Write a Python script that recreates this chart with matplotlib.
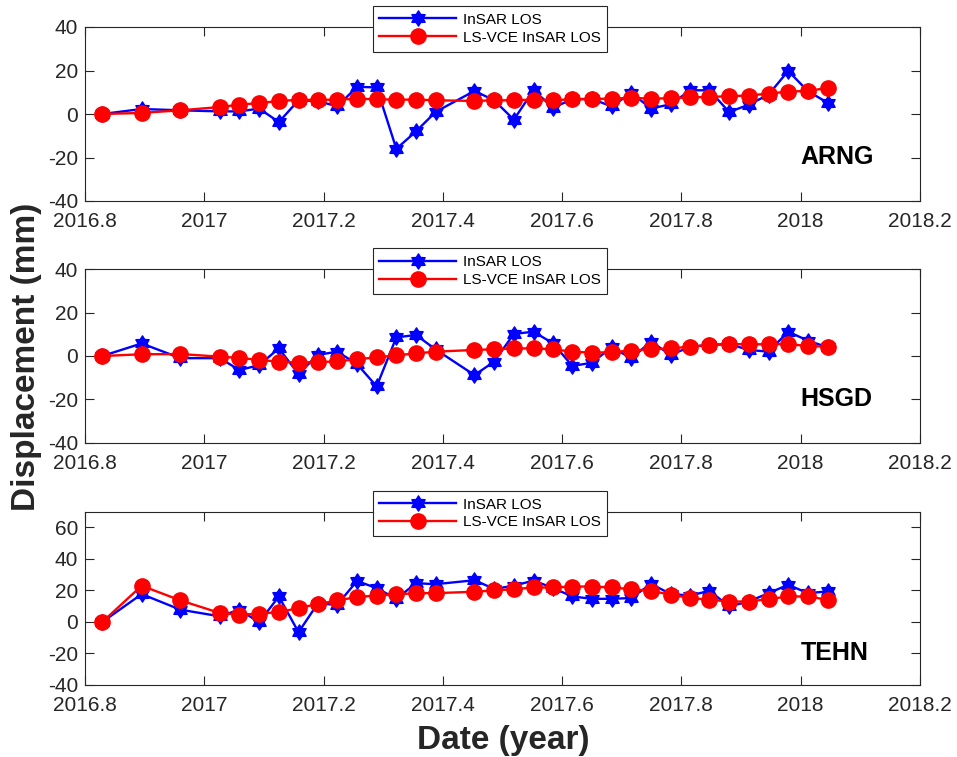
import matplotlib
matplotlib.use("Agg")
import matplotlib.pyplot as plt
from matplotlib.path import Path

plt.rcParams['font.family'] = ['Liberation Sans', 'DejaVu Sans']

# Acquisition epochs (decimal year)
dates = [2016.829, 2016.895, 2016.960, 2017.026, 2017.059, 2017.092, 2017.125,
         2017.158, 2017.190, 2017.223, 2017.256, 2017.289, 2017.322, 2017.355,
         2017.388, 2017.453, 2017.486, 2017.519, 2017.552, 2017.585, 2017.617,
         2017.650, 2017.683, 2017.716, 2017.749, 2017.782, 2017.815, 2017.847,
         2017.880, 2017.913, 2017.946, 2017.979, 2018.012, 2018.045]

stations = ['ARNG', 'HSGD', 'TEHN']

# LOS displacement (mm): raw InSAR and LS-VCE weighted solution
arng_insar = [0, 2.3, 1.7, 1.2, 1.2, 2.5, -3.7, 6.3, 6.0, 3.5, 12.5, 12.2, -16.0,
              -8.0, 1.0, 10.6, 6.3, -2.6, 10.9, 2.9, 6.8, 6.9, 3.5, 9.7, 2.5,
              4.5, 10.9, 10.9, 0.9, 4.3, 8.9, 19.8, 10.5, 5.2]
arng_lsvce = [0, 0.5, 1.7, 3.2, 4.3, 5.0, 6.0, 6.5, 6.5, 6.6, 7.0, 6.8, 6.6,
              6.6, 6.3, 6.0, 6.3, 6.3, 6.6, 6.3, 6.8, 6.9, 7.1, 7.4, 7.1, 7.2,
              7.7, 7.8, 8.2, 8.5, 9.4, 10.3, 10.6, 12.0]

hsgd_insar = [0, 5.8, -1.0, -1.0, -6.5, -4.2, 3.5, -8.3, 0.5, 2.0, -3.7, -14.0,
              8.6, 9.7, 3.0, -8.8, -2.6, 10.2, 11.2, 5.8, -4.6, -3.1, 4.0, -1.0,
              6.6, 0.5, 4.3, 5.1, 5.5, 2.8, 2.0, 11.2, 7.1, 4.0]
hsgd_lsvce = [0, 0.8, 0.9, -0.3, -0.9, -1.8, -2.6, -3.0, -2.8, -2.5, -1.5, -0.6,
              0.3, 1.2, 2.0, 2.8, 3.1, 3.5, 3.5, 3.1, 2.0, 1.5, 1.8, 2.5, 3.1,
              3.5, 4.3, 5.1, 5.5, 5.4, 5.4, 5.5, 4.6, 4.3]

tehn_insar = [0, 17.7, 7.8, 3.6, 7.8, -0.2, 16.2, -6.5, 11.6, 11.0, 26.0, 21.5,
              14.7, 24.6, 24.0, 26.5, 21.0, 23.0, 26.3, 21.5, 16.2, 14.7, 14.7,
              15.2, 24.2, 17.7, 16.8, 19.8, 9.9, 13.0, 18.3, 23.6, 18.3, 19.4]
tehn_lsvce = [0, 23.0, 13.7, 5.7, 4.6, 5.3, 6.3, 8.8, 11.4, 13.7, 15.8, 16.8,
              17.5, 18.3, 18.3, 19.2, 20.0, 20.8, 21.9, 21.9, 22.5, 22.5, 21.9,
              20.8, 19.8, 17.3, 15.2, 14.1, 13.0, 13.0, 14.5, 16.2, 16.2, 14.1]

insar_series = [arng_insar, hsgd_insar, tehn_insar]
lsvce_series = [arng_lsvce, hsgd_lsvce, tehn_lsvce]

xticks = [2016.8, 2017.0, 2017.2, 2017.4, 2017.6, 2017.8, 2018.0, 2018.2]
xtick_labels = ['2016.8', '2017', '2017.2', '2017.4', '2017.6', '2017.8', '2018', '2018.2']
yticks_list = [[-40, -20, 0, 20, 40], [-40, -20, 0, 20, 40], [-40, -20, 0, 20, 40, 60]]
ylims = [(-40, 40), (-40, 40), (-40, 70)]

W, H = 957, 757
axis_color = '#262626'

# six-pointed star (hexagram) marker
hexagram = Path.unit_regular_star(6, 0.6)

fig = plt.figure(figsize=(W / 100, H / 100), dpi=100)

left_px, right_px = 85, 920
tops_px = [27, 269.3, 511.7]
bottoms_px = [201, 442.7, 685]

for i in range(3):
    l = left_px / W
    b = 1 - bottoms_px[i] / H
    w = (right_px - left_px) / W
    h = (bottoms_px[i] - tops_px[i]) / H
    ax = fig.add_axes([l, b, w, h])

    ax.plot(dates, insar_series[i], color='blue', lw=1.7, marker=hexagram,
            markersize=11, markerfacecolor='blue', markeredgecolor='blue',
            label='InSAR LOS', zorder=2)
    ax.plot(dates, lsvce_series[i], color='red', lw=1.7, marker='o',
            markersize=11, markerfacecolor='red', markeredgecolor='red',
            label='LS-VCE InSAR LOS', zorder=3)

    ax.set_xlim(2016.8, 2018.2)
    ax.set_ylim(*ylims[i])
    ax.set_xticks(xticks)
    ax.set_xticklabels(xtick_labels)
    ax.set_yticks(yticks_list[i])
    ax.set_yticklabels([str(v) for v in yticks_list[i]])

    ax.tick_params(direction='in', top=True, right=True, length=6.3, width=0.8,
                   color=axis_color, labelcolor=axis_color, labelsize=15)
    ax.tick_params(axis='x', pad=8)
    ax.tick_params(axis='y', pad=5)
    for sp in ax.spines.values():
        sp.set_color(axis_color)
        sp.set_linewidth(0.8)

    ax.text(2018.0, -20, stations[i], fontsize=18, fontweight='bold',
            ha='left', va='center', color='black')

    leg = ax.legend(loc='center', bbox_to_anchor=(0.485, 0.99),
                    fontsize=11, handlelength=5.0, handletextpad=0.45,
                    borderpad=0.45, labelspacing=0.25, fancybox=False,
                    framealpha=1, edgecolor=axis_color, borderaxespad=0)
    leg.get_frame().set_linewidth(0.8)
    leg.set_zorder(10)

fig.text(27 / W, 1 - 357 / H, 'Displacement (mm)', rotation=90, fontsize=24,
         fontweight='bold', ha='center', va='center', color=axis_color)
fig.text(503 / W, 1 - 741 / H, 'Date (year)', fontsize=24,
         fontweight='bold', ha='center', va='center', color=axis_color)

fig.savefig('out.png', dpi=100, facecolor='white')
